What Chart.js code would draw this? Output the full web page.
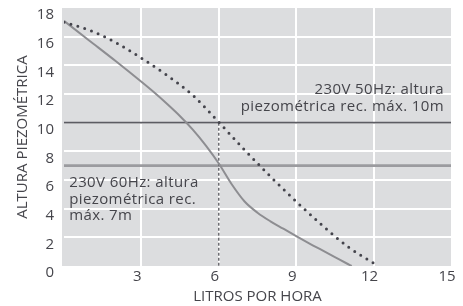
<!DOCTYPE html>
<html>
<head>
<meta charset="utf-8">
<script src="https://cdn.jsdelivr.net/npm/chart.js@4"></script>
<style>
  body { margin: 0; background: #fff; }
  #wrap { width: 463px; height: 306px; }
</style>
</head>
<body>
<div id="wrap"><canvas id="pumpChart" width="463" height="306"></canvas></div>
<script>
// 60Hz curve (solid grey)
const flow60 = [0, 1, 2, 3, 3.5, 4, 4.5, 5, 5.5, 6, 6.5, 7, 7.5, 8, 8.5, 9, 9.5, 10, 10.5, 11, 11.15];
const head60 = [17.1, 15.7, 14.3, 12.85, 12.1, 11.3, 10.45, 9.5, 8.4, 7.15, 5.7, 4.5, 3.72, 3.12, 2.6, 2.08, 1.58, 1.1, 0.62, 0.14, 0];

// 50Hz curve (dotted)
const flow50 = [0, 1, 2, 3, 4, 5, 6, 7, 8, 9, 10, 11, 12];
const head50 = [17.0, 16.45, 15.6, 14.5, 13.3, 11.9, 10.03, 8.1, 6.25, 4.5, 2.85, 1.35, 0.2];

const maxHead50 = 10;
const maxHead60 = 7;
const opFlow = 6;

const xTicks = [0, 3, 6, 9, 12, 15];
const yTicks = [0, 2, 4, 6, 8, 10, 12, 14, 16, 18];

const note50 = ["230V 50Hz: altura", "piezométrica rec. máx. 10m"];
const note60 = ["230V 60Hz: altura", "piezométrica rec.", "máx. 7m"];

const textColor = "#45454b";
const fontFam = "'Open Sans', 'Noto Sans', sans-serif";

function toPts(xs, ys) {
  return xs.map((x, i) => ({ x: x, y: ys[i] }));
}

const plotBg = {
  id: "plotBg",
  beforeDraw(chart) {
    const a = chart.chartArea;
    const ctx = chart.ctx;
    ctx.save();
    ctx.fillStyle = "#dcdddf";
    ctx.fillRect(a.left - 2, a.top, a.right - a.left + 2, a.bottom - a.top);
    ctx.restore();
  }
};

const notes = {
  id: "notes",
  afterDatasetsDraw(chart) {
    const ctx = chart.ctx;
    const xs = chart.scales.x;
    const ys = chart.scales.y;
    ctx.save();
    ctx.fillStyle = textColor;
    ctx.font = "15px " + fontFam;
    ctx.letterSpacing = "0.4px";
    ctx.textBaseline = "alphabetic";

    ctx.textAlign = "right";
    let x = xs.getPixelForValue(14.73);
    let y = ys.getPixelForValue(12.0);
    note50.forEach((t, i) => ctx.fillText(t, x, y + i * 17));

    ctx.textAlign = "left";
    x = xs.getPixelForValue(0.2);
    y = ys.getPixelForValue(5.5);
    note60.forEach((t, i) => ctx.fillText(t, x, y + i * 16.5));
    ctx.restore();
  }
};

function edgeGrid(ctx) {
  const v = ctx.tick ? ctx.tick.value : null;
  const s = ctx.scale;
  if (v === s.min || v === s.max) return "rgba(0,0,0,0)";
  return "#ffffff";
}

new Chart(document.getElementById("pumpChart"), {
  type: "line",
  data: {
    datasets: [
      {
        data: toPts(flow50, head50),
        borderColor: "#44444c",
        borderWidth: 3,
        borderDash: [0, 7.2],
        borderCapStyle: "round",
        cubicInterpolationMode: "monotone",
        pointRadius: 0,
        fill: false
      },
      {
        data: toPts(flow60, head60),
        borderColor: "#8d8d91",
        borderWidth: 2,
        cubicInterpolationMode: "monotone",
        pointRadius: 0,
        fill: false
      },
      {
        data: [{ x: opFlow, y: maxHead50 }, { x: opFlow, y: 0 }],
        borderColor: "#55555b",
        borderWidth: 1.3,
        borderDash: [3, 2],
        pointRadius: 0,
        fill: false
      },
      {
        data: [{ x: xTicks[0], y: maxHead50 }, { x: xTicks[xTicks.length - 1], y: maxHead50 }],
        borderColor: "#5c5c63",
        borderWidth: 1.6,
        pointRadius: 0,
        fill: false
      },
      {
        data: [{ x: xTicks[0], y: maxHead60 }, { x: xTicks[xTicks.length - 1], y: maxHead60 }],
        borderColor: "#9b9b9f",
        borderWidth: 2.8,
        pointRadius: 0,
        fill: false
      }
    ]
  },
  options: {
    responsive: false,
    animation: false,
    devicePixelRatio: 1,
    layout: { padding: { top: 8, right: 12, left: 0, bottom: 0 } },
    plugins: {
      legend: { display: false },
      tooltip: { enabled: false }
    },
    scales: {
      x: {
        type: "linear",
        min: xTicks[0],
        max: xTicks[xTicks.length - 1],
        afterBuildTicks: s => { s.ticks = xTicks.map(v => ({ value: v })); },
        afterFit: s => { s.height = 40; },
        border: { display: false },
        grid: { color: edgeGrid, lineWidth: 2, drawTicks: false },
        ticks: {
          padding: 2,
          labelOffset: -4,
          color: textColor,
          font: { family: fontFam, size: 15 },
          callback: v => (v === 0 ? "" : v)
        },
        title: {
          display: true,
          text: "LITROS POR HORA",
          color: textColor,
          font: { family: fontFam, size: 15 },
          padding: { top: 0, bottom: 0 }
        }
      },
      y: {
        type: "linear",
        min: yTicks[0],
        max: yTicks[yTicks.length - 1],
        afterBuildTicks: s => { s.ticks = yTicks.map(v => ({ value: v })); },
        afterFit: s => { s.width = 64; s.paddingTop = 0; s.paddingBottom = 0; },
        border: { display: false },
        grid: { color: edgeGrid, lineWidth: 2, drawTicks: false },
        ticks: {
          padding: 10,
          labelOffset: 7,
          color: textColor,
          font: { family: fontFam, size: 15 }
        },
        title: {
          display: true,
          text: "ALTURA PIEZOMÉTRICA",
          color: textColor,
          font: { family: fontFam, size: 15 },
          padding: { top: 14, bottom: 0 }
        }
      }
    }
  },
  plugins: [plotBg, notes]
});
</script>
</body>
</html>
